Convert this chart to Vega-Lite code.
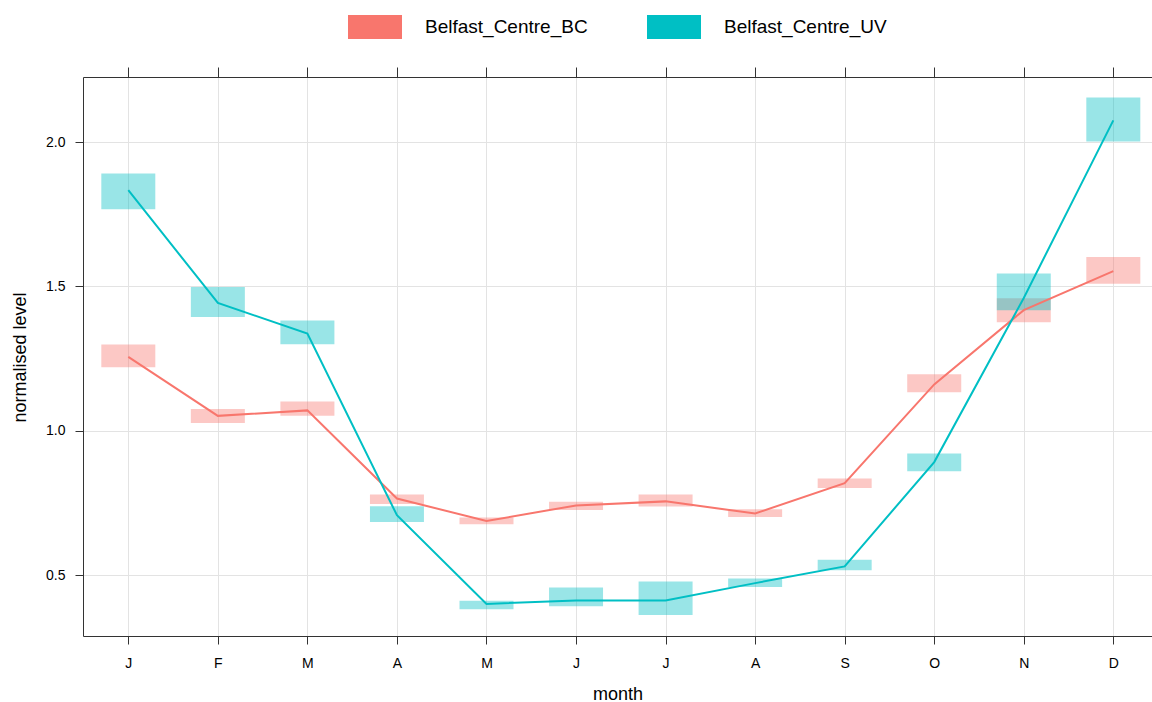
{
  "$schema": "https://vega.github.io/schema/vega-lite/v6.json",
  "width": 1069,
  "height": 559,
  "autosize": {"type": "none"},
  "padding": {"left": 83, "top": 77, "right": 0, "bottom": 66},
  "background": "white",
  "config": {
    "view": {"stroke": null},
    "font": "Liberation Sans",
    "axis": {
      "labelFont": "Liberation Sans",
      "titleFont": "Liberation Sans",
      "labelColor": "#000000",
      "titleColor": "#000000",
      "labelFontSize": 14,
      "titleFontSize": 18,
      "titleFontWeight": "normal",
      "domainColor": "#333333",
      "tickColor": "#333333",
      "gridColor": "#e3e3e3",
      "gridWidth": 1
    },
    "legend": {"labelFont": "Liberation Sans"}
  },
  "data": {
    "values": [
      {"m": 1, "series": "Belfast_Centre_BC", "mean": 1.256, "lo": 1.220, "hi": 1.299},
      {"m": 2, "series": "Belfast_Centre_BC", "mean": 1.052, "lo": 1.027, "hi": 1.076},
      {"m": 3, "series": "Belfast_Centre_BC", "mean": 1.071, "lo": 1.052, "hi": 1.102},
      {"m": 4, "series": "Belfast_Centre_BC", "mean": 0.766, "lo": 0.747, "hi": 0.780},
      {"m": 5, "series": "Belfast_Centre_BC", "mean": 0.688, "lo": 0.677, "hi": 0.700},
      {"m": 6, "series": "Belfast_Centre_BC", "mean": 0.742, "lo": 0.726, "hi": 0.755},
      {"m": 7, "series": "Belfast_Centre_BC", "mean": 0.756, "lo": 0.738, "hi": 0.780},
      {"m": 8, "series": "Belfast_Centre_BC", "mean": 0.714, "lo": 0.702, "hi": 0.729},
      {"m": 9, "series": "Belfast_Centre_BC", "mean": 0.819, "lo": 0.802, "hi": 0.835},
      {"m": 10, "series": "Belfast_Centre_BC", "mean": 1.161, "lo": 1.134, "hi": 1.196},
      {"m": 11, "series": "Belfast_Centre_BC", "mean": 1.418, "lo": 1.376, "hi": 1.459},
      {"m": 12, "series": "Belfast_Centre_BC", "mean": 1.553, "lo": 1.509, "hi": 1.602},
      {"m": 1, "series": "Belfast_Centre_UV", "mean": 1.833, "lo": 1.767, "hi": 1.891},
      {"m": 2, "series": "Belfast_Centre_UV", "mean": 1.443, "lo": 1.394, "hi": 1.498},
      {"m": 3, "series": "Belfast_Centre_UV", "mean": 1.337, "lo": 1.300, "hi": 1.382},
      {"m": 4, "series": "Belfast_Centre_UV", "mean": 0.708, "lo": 0.685, "hi": 0.739},
      {"m": 5, "series": "Belfast_Centre_UV", "mean": 0.401, "lo": 0.383, "hi": 0.412},
      {"m": 6, "series": "Belfast_Centre_UV", "mean": 0.413, "lo": 0.393, "hi": 0.458},
      {"m": 7, "series": "Belfast_Centre_UV", "mean": 0.413, "lo": 0.363, "hi": 0.479},
      {"m": 8, "series": "Belfast_Centre_UV", "mean": 0.473, "lo": 0.460, "hi": 0.489},
      {"m": 9, "series": "Belfast_Centre_UV", "mean": 0.531, "lo": 0.518, "hi": 0.554},
      {"m": 10, "series": "Belfast_Centre_UV", "mean": 0.892, "lo": 0.860, "hi": 0.922},
      {"m": 11, "series": "Belfast_Centre_UV", "mean": 1.460, "lo": 1.418, "hi": 1.545},
      {"m": 12, "series": "Belfast_Centre_UV", "mean": 2.075, "lo": 2.002, "hi": 2.154}
    ]
  },
  "resolve": {"axis": {"x": "independent"}},
  "layer": [
    {
      "mark": {"type": "bar", "orient": "vertical", "size": 54, "opacity": 0.4},
      "encoding": {
        "x": {
          "field": "m", "type": "quantitative",
          "scale": {"domain": [0.494, 12.432], "nice": false, "zero": false, "padding": 0},
          "axis": {
            "orient": "bottom",
            "values": [1,2,3,4,5,6,7,8,9,10,11,12],
            "labelExpr": "['J','F','M','A','M','J','J','A','S','O','N','D'][datum.value-1]",
            "grid": true,
            "tickSize": 8,
            "labelPadding": 12,
            "labelBaseline": "top",
            "title": "month",
            "titleY": 63,
            "titleBaseline": "alphabetic"
          }
        },
        "y": {
          "field": "lo", "type": "quantitative",
          "scale": {"domain": [0.29, 2.225], "nice": false, "zero": false},
          "axis": {
            "values": [0.5, 1.0, 1.5, 2.0],
            "format": ".1f",
            "grid": true,
            "tickSize": 8,
            "labelPadding": 10,
            "title": "normalised level",
            "titleX": -58,
            "titleY": 280,
            "titleAngle": -90,
            "titleAlign": "center",
            "titleBaseline": "alphabetic"
          }
        },
        "y2": {"field": "hi"},
        "fill": {
          "field": "series", "type": "nominal",
          "scale": {"domain": ["Belfast_Centre_BC", "Belfast_Centre_UV"], "range": ["#F8766D", "#00BFC4"]},
          "legend": {
            "title": null,
            "orient": "none",
            "direction": "horizontal",
            "legendX": 265,
            "legendY": -77,
            "padding": 0,
            "symbolType": "M-1,-0.444H1V0.444H-1Z",
            "symbolSize": 2916,
            "symbolOpacity": 1,
            "symbolStrokeWidth": 0,
            "labelFontSize": 19,
            "labelLimit": 400,
            "labelColor": "#000000",
            "labelOffset": 23,
            "columnPadding": 59
          }
        }
      }
    },
    {
      "mark": {"type": "line", "strokeWidth": 2},
      "encoding": {
        "x": {
          "field": "m", "type": "quantitative",
          "axis": {
            "orient": "top",
            "values": [1,2,3,4,5,6,7,8,9,10,11,12],
            "labels": false,
            "grid": false,
            "tickSize": 10,
            "title": null
          }
        },
        "y": {"field": "mean", "type": "quantitative"},
        "stroke": {
          "field": "series", "type": "nominal",
          "scale": {"domain": ["Belfast_Centre_BC", "Belfast_Centre_UV"], "range": ["#F8766D", "#00BFC4"]},
          "legend": null
        },
        "order": {"field": "m"}
      }
    }
  ]
}
